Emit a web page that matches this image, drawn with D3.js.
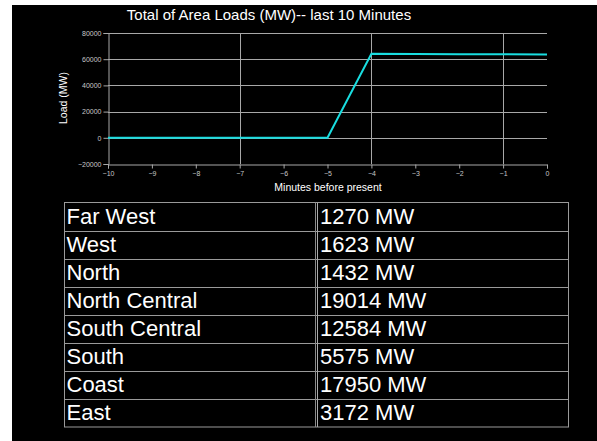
<!DOCTYPE html>
<html>
<head>
<meta charset="utf-8">
<script src="https://cdn.jsdelivr.net/npm/d3@7"></script>
<style>
  html, body { margin: 0; padding: 0; background: #fff; }
  svg { display: block; }
  text { font-family: "Liberation Sans", Arial, sans-serif; }
</style>
</head>
<body>
<svg id="chart" width="597" height="441"></svg>
<script>
// ---- data ----
const minutes = [-10, -9, -8, -7, -6, -5, -4, -3, -2, -1, 0];
const totalLoads = [0, 0, 0, 0, 0, 0, 64100, 63900, 63800, 63700, 63600];
const yTicks = [-20000, 0, 20000, 40000, 60000, 80000];
const xTicks = [-10, -9, -8, -7, -6, -5, -4, -3, -2, -1, 0];
const xGrid = [-7, -4, -1];
const regions = ["Far West", "West", "North", "North Central", "South Central", "South", "Coast", "East"];
const regionLoads = [1270, 1623, 1432, 19014, 12584, 5575, 17950, 3172];
const titleText = "Total of Area Loads (MW)-- last 10 Minutes";

const svg = d3.select("#chart");

// black panel
svg.append("rect").attr("x", 12).attr("y", 5).attr("width", 585).attr("height", 436).attr("fill", "#000");

const x = d3.scaleLinear().domain([-10, 0]).range([108, 547]);
const y = d3.scaleLinear().domain([-20000, 80000]).range([164, 33]);

// title
svg.append("text").attr("x", 269).attr("y", 20).attr("text-anchor", "middle")
  .attr("fill", "#fff").attr("font-size", 15).text(titleText);

const gridColor = "#a8a8a8";

// horizontal grid lines
svg.append("g").selectAll("line").data(yTicks.filter(d => d > -20000)).join("line")
  .attr("x1", x(-10)).attr("x2", x(0))
  .attr("y1", d => Math.round(y(d)) + 0.5).attr("y2", d => Math.round(y(d)) + 0.5)
  .attr("stroke", gridColor).attr("stroke-width", 1);

// vertical grid lines
svg.append("g").selectAll("line").data(xGrid).join("line")
  .attr("x1", d => Math.round(x(d)) + 0.5).attr("x2", d => Math.round(x(d)) + 0.5)
  .attr("y1", y(80000)).attr("y2", y(-20000))
  .attr("stroke", gridColor).attr("stroke-width", 1);

// y axis
const yAxis = d3.axisLeft(y).tickValues(yTicks).tickSize(5).tickPadding(2).tickFormat(d3.format("d"));
const gy = svg.append("g").attr("transform", `translate(${Math.round(x(-10)) + 0.5},0)`).call(yAxis);
gy.select(".domain").attr("stroke", gridColor);
gy.selectAll(".tick line").attr("stroke", gridColor);
gy.selectAll(".tick text").attr("fill", "#c8c8c8").attr("font-size", 7)
  .attr("font-family", "'Liberation Sans', Arial, sans-serif");

// x axis
const xAxis = d3.axisBottom(x).tickValues(xTicks).tickSize(4).tickPadding(3).tickFormat(d3.format("d"));
const gx = svg.append("g").attr("transform", `translate(0,${Math.round(y(-20000)) + 0.5})`).call(xAxis);
gx.select(".domain").attr("stroke", gridColor);
gx.selectAll(".tick line").attr("stroke", gridColor);
gx.selectAll(".tick text").attr("fill", "#c8c8c8").attr("font-size", 7)
  .attr("font-family", "'Liberation Sans', Arial, sans-serif");

// axis titles
svg.append("text").attr("transform", "translate(67,98) rotate(-90)").attr("text-anchor", "middle")
  .attr("fill", "#fff").attr("font-size", 10.5).text("Load (MW)");
svg.append("text").attr("x", 328).attr("y", 191).attr("text-anchor", "middle")
  .attr("fill", "#fff").attr("font-size", 10.5).text("Minutes before present");

// line
const line = d3.line().x((d, i) => x(minutes[i])).y(d => y(d));
svg.append("path").datum(totalLoads).attr("d", line)
  .attr("fill", "none").attr("stroke", "#19dde0").attr("stroke-width", 2);

// ---- table ----
const tLeft = 64.5, tRight = 568.5, tCol = 316;
const rowScale = d3.scaleBand().domain(regions).range([202.5, 427]);
const tableColor = "#9a9a9a";
const tg = svg.append("g");
tg.append("rect").attr("x", tLeft).attr("y", rowScale.range()[0])
  .attr("width", tRight - tLeft).attr("height", rowScale.range()[1] - rowScale.range()[0])
  .attr("fill", "none").attr("stroke", tableColor).attr("stroke-width", 1);
tg.selectAll("line.row").data(regions.slice(1)).join("line").attr("class", "row")
  .attr("x1", tLeft).attr("x2", tRight)
  .attr("y1", d => Math.round(rowScale(d)) + 0.5).attr("y2", d => Math.round(rowScale(d)) + 0.5)
  .attr("stroke", tableColor).attr("stroke-width", 1.2);
tg.append("line").attr("x1", tCol - 0.5).attr("x2", tCol - 0.5)
  .attr("y1", rowScale.range()[0]).attr("y2", rowScale.range()[1])
  .attr("stroke", "#8a8a8a").attr("stroke-width", 1);
tg.append("line").attr("x1", tCol + 1.5).attr("x2", tCol + 1.5)
  .attr("y1", rowScale.range()[0]).attr("y2", rowScale.range()[1])
  .attr("stroke", "#aaaaaa").attr("stroke-width", 1);

tg.selectAll("text.name").data(regions).join("text").attr("class", "name")
  .attr("x", 66.5).attr("y", d => rowScale(d) + 21)
  .attr("fill", "#fff").attr("font-size", 22).text(d => d);
tg.selectAll("text.val").data(regionLoads).join("text").attr("class", "val")
  .attr("x", 320).attr("y", (d, i) => rowScale(regions[i]) + 21)
  .attr("fill", "#fff").attr("font-size", 22).text(d => d + " MW");
</script>
</body>
</html>
